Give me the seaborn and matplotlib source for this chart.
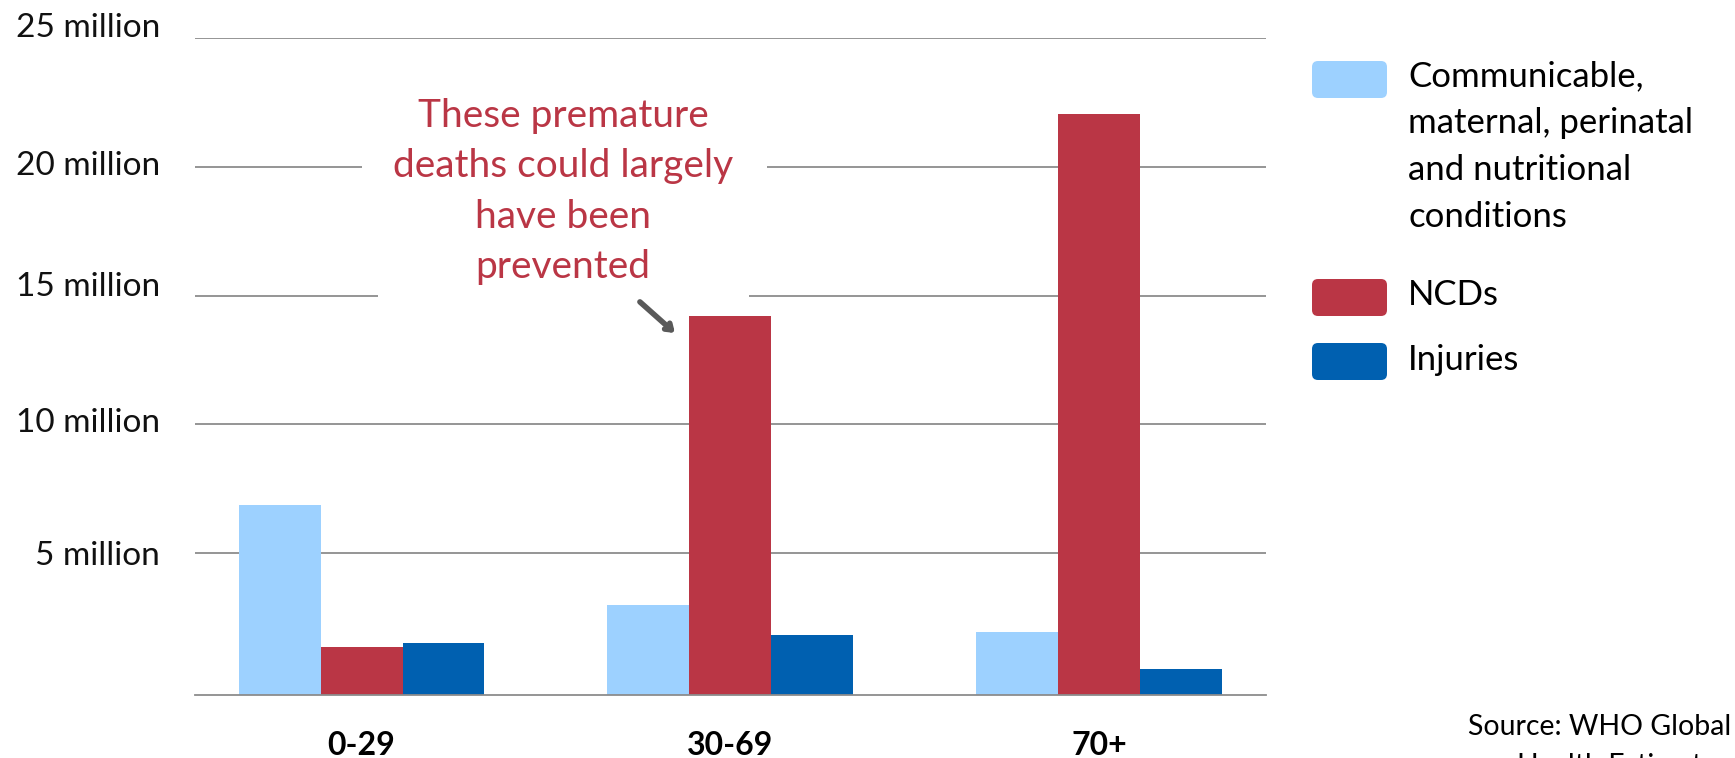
import matplotlib
matplotlib.use("Agg")
import matplotlib.pyplot as plt
from matplotlib.patches import FancyBboxPatch, Rectangle
from matplotlib.transforms import ScaledTranslation
import pandas as pd
import seaborn as sns

# Deaths by age group and broad cause (millions)
age_groups = ["0-29", "30-69", "70+"]
communicable = [6.88, 2.98, 1.93]
ncds = [1.37, 14.21, 22.04]
injuries = [1.52, 1.83, 0.49]

cause_labels = [
    "Communicable,\nmaternal, perinatal\nand nutritional\nconditions",
    "NCDs",
    "Injuries",
]
cause_colors = ["#9DD1FF", "#BA3645", "#0060B0"]

y_ticks = [5, 10, 15, 20, 25]
y_tick_labels = ["5 million", "10 million", "15 million", "20 million", "25 million"]

note_text = "These premature\ndeaths could largely\nhave been\nprevented"
source_lines = ["Source: WHO Global", "Health Estimates"]

df = pd.DataFrame({
    "age": age_groups * 3,
    "cause": [c for c in cause_labels for _ in age_groups],
    "deaths": communicable + ncds + injuries,
})

sns.set_style("white")
plt.rcParams["font.family"] = ["Lato", "DejaVu Sans"]

W, H = 17.35, 7.58
fig = plt.figure(figsize=(W, H), dpi=100)
ax = fig.add_axes([194.5 / 1735, 1 - 694.7 / 758, (1266 - 194.5) / 1735, (694.7 - 38.3) / 758])

y_floor = -0.5
sns.barplot(
    data=df, x="age", y="deaths", hue="cause",
    order=age_groups, hue_order=cause_labels, palette=cause_colors,
    width=0.667, saturation=1, errorbar=None, legend=False,
    linewidth=0, ax=ax,
)
# bars stand on the plot floor
for bar in list(ax.patches):
    h = bar.get_height()
    bar.set_y(y_floor)
    bar.set_height(h - y_floor)

ax.set_xlim(-0.453, 2.453)
ax.set_ylim(y_floor, 25)
ax.set_yticks(y_ticks, y_tick_labels)
ax.set_xlabel("")
ax.set_ylabel("")

grid_color = "#8C8C8C"
ax.yaxis.grid(True, color=grid_color, lw=1.3)
ax.xaxis.grid(False)
ax.set_axisbelow(True)
for side in ["left", "right", "top"]:
    ax.spines[side].set_visible(False)
ax.spines["bottom"].set_color(grid_color)
ax.spines["bottom"].set_linewidth(1.3)

ax.tick_params(axis="y", length=0, pad=25, labelsize=24, labelcolor="#111111")
ax.tick_params(axis="x", length=0, pad=26, labelsize=23, labelcolor="#000000")
for lbl in ax.get_xticklabels():
    lbl.set_fontweight("bold")
# small upward nudges of the value labels (inches)
label_lifts = [0.0, 0.045, 0.12, 0.045, 0.13]
for lbl, lift in zip(ax.get_yticklabels(), label_lifts):
    lbl.set_transform(lbl.get_transform() + ScaledTranslation(0, lift, fig.dpi_scale_trans))

# white panel behind the callout, interrupting the gridlines
ax.add_patch(Rectangle((0.0, 16.5), 1.10, 5.0, facecolor="white", edgecolor="none", zorder=0.8))
ax.add_patch(Rectangle((0.045, 14.6), 1.006, 0.8, facecolor="white", edgecolor="none", zorder=0.8))

ax.text(0.5465, 19.05, note_text, ha="center", va="center", color="#BA3645",
        fontsize=28, linespacing=1.5, zorder=4)
ax.annotate("", xy=(0.850, 13.55), xytext=(0.755, 14.76),
            arrowprops=dict(arrowstyle="->,head_length=0.4,head_width=0.28",
                            lw=4, color="#595959", shrinkA=0, shrinkB=0))

# legend
inch = fig.dpi_scale_trans
swatch_tops = [0.61, 2.79, 3.43]
label_baselines = [2.27, 3.05, 3.70]  # baseline of each label's last line
for color, label, top, base in zip(cause_colors, cause_labels, swatch_tops, label_baselines):
    fig.add_artist(FancyBboxPatch((13.12, H - top - 0.37), 0.75, 0.37,
                                  boxstyle="round,pad=0,rounding_size=0.06",
                                  transform=inch, facecolor=color, edgecolor="none"))
    fig.text(14.08, H - base, label, transform=inch, ha="left", va="baseline",
             fontsize=25, linespacing=1.57, color="#000000")

fig.text(14.68, H - 7.35, source_lines[0], transform=inch, ha="left", va="baseline",
         fontsize=20.5, color="#000000")
fig.text(15.17, H - 7.74, source_lines[1], transform=inch, ha="left", va="baseline",
         fontsize=20.5, color="#000000")

fig.savefig("out.png", dpi=100)
